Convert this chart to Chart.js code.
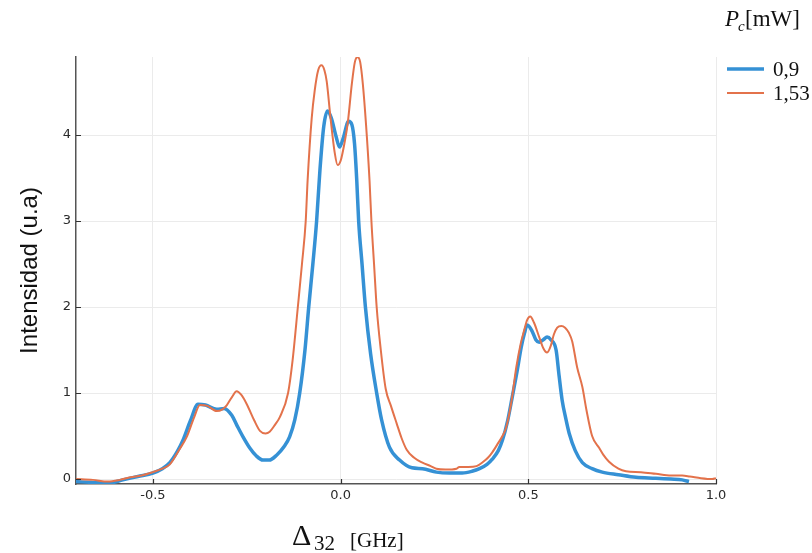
<!DOCTYPE html>
<html>
<head>
<meta charset="utf-8">
<script src="https://cdn.jsdelivr.net/npm/chart.js@4.4.1/dist/chart.umd.min.js"></script>
<style>
  html, body { margin: 0; padding: 0; background: #fff; }
  #wrap { width: 812px; height: 553px; }
</style>
</head>
<body>
<div id="wrap"><canvas id="chart" width="812" height="553"></canvas></div>
<script>
// --- DATA ---
const seriesNames = ['0,9', '1,53'];

const blueX = [-0.705, -0.66, -0.62, -0.58, -0.54, -0.50, -0.475, -0.455, -0.435, -0.42, -0.40, -0.38, -0.36, -0.33, -0.31, -0.29, -0.277, -0.26, -0.242, -0.225, -0.207, -0.19, -0.17, -0.15, -0.136, -0.122, -0.109, -0.095, -0.085, -0.074, -0.064, -0.055, -0.045, -0.035, -0.025, -0.012, -0.003, 0.008, 0.021, 0.03, 0.037, 0.043, 0.048, 0.057, 0.066, 0.08, 0.096, 0.109, 0.13, 0.157, 0.19, 0.218, 0.255, 0.29, 0.324, 0.35, 0.37, 0.39, 0.404, 0.42, 0.431, 0.445, 0.457, 0.47, 0.481, 0.49, 0.497, 0.51, 0.52, 0.529, 0.54, 0.55, 0.56, 0.574, 0.582, 0.59, 0.60, 0.609, 0.625, 0.644, 0.67, 0.697, 0.74, 0.787, 0.84, 0.88, 0.91, 0.928];
const blueY = [-0.03, -0.04, -0.05, -0.01, 0.03, 0.07, 0.12, 0.19, 0.32, 0.45, 0.68, 0.87, 0.86, 0.81, 0.82, 0.74, 0.63, 0.49, 0.36, 0.27, 0.22, 0.22, 0.28, 0.38, 0.49, 0.69, 1.0, 1.5, 2.0, 2.5, 3.0, 3.6, 4.1, 4.28, 4.2, 3.98, 3.86, 3.98, 4.16, 4.12, 3.9, 3.47, 3.0, 2.5, 2.0, 1.45, 1.0, 0.69, 0.37, 0.22, 0.13, 0.12, 0.08, 0.07, 0.07, 0.09, 0.12, 0.17, 0.23, 0.33, 0.45, 0.68, 0.95, 1.25, 1.53, 1.7, 1.79, 1.72, 1.62, 1.59, 1.62, 1.65, 1.62, 1.5, 1.2, 0.92, 0.7, 0.53, 0.33, 0.19, 0.12, 0.08, 0.05, 0.02, 0.01, 0.0, -0.01, -0.03];

const orangeX = [-0.705, -0.66, -0.62, -0.588, -0.56, -0.53, -0.50, -0.475, -0.455, -0.43, -0.41, -0.39, -0.375, -0.355, -0.33, -0.315, -0.303, -0.29, -0.277, -0.265, -0.25, -0.23, -0.215, -0.20, -0.189, -0.175, -0.162, -0.14, -0.128, -0.114, -0.103, -0.093, -0.088, -0.077, -0.069, -0.06, -0.051, -0.043, -0.037, -0.027, -0.016, -0.008, 0.0, 0.01, 0.019, 0.03, 0.038, 0.045, 0.052, 0.059, 0.068, 0.077, 0.082, 0.089, 0.096, 0.107, 0.12, 0.134, 0.149, 0.162, 0.176, 0.195, 0.218, 0.24, 0.255, 0.28, 0.309, 0.316, 0.34, 0.362, 0.38, 0.393, 0.404, 0.42, 0.431, 0.441, 0.455, 0.468, 0.48, 0.489, 0.497, 0.505, 0.515, 0.529, 0.54, 0.55, 0.56, 0.568, 0.577, 0.588, 0.598, 0.608, 0.617, 0.63, 0.644, 0.655, 0.67, 0.689, 0.70, 0.715, 0.74, 0.76, 0.80, 0.84, 0.88, 0.91, 0.93, 0.96, 0.99, 1.0];
const orangeY = [0.0, -0.01, -0.03, -0.01, 0.02, 0.04, 0.08, 0.12, 0.17, 0.34, 0.49, 0.72, 0.86, 0.85, 0.79, 0.81, 0.86, 0.95, 1.02, 0.98, 0.87, 0.68, 0.56, 0.53, 0.55, 0.63, 0.72, 1.0, 1.38, 2.0, 2.5, 3.0, 3.47, 4.2, 4.52, 4.75, 4.81, 4.75, 4.62, 4.2, 3.8, 3.65, 3.7, 3.9, 4.14, 4.6, 4.85, 4.91, 4.85, 4.6, 4.1, 3.47, 3.0, 2.5, 2.0, 1.5, 1.05, 0.85, 0.65, 0.48, 0.34, 0.25, 0.19, 0.15, 0.12, 0.11, 0.12, 0.14, 0.14, 0.15, 0.2, 0.25, 0.31, 0.42, 0.5, 0.6, 0.9, 1.3, 1.58, 1.73, 1.85, 1.89, 1.82, 1.65, 1.52, 1.47, 1.55, 1.68, 1.76, 1.78, 1.76, 1.7, 1.6, 1.3, 1.07, 0.8, 0.5, 0.36, 0.28, 0.2, 0.12, 0.09, 0.08, 0.06, 0.04, 0.04, 0.03, 0.01, 0.0, 0.01];

const xTicks = [-0.5, 0.0, 0.5, 1.0];
const yTicks = [0, 1, 2, 3, 4];

const BLUE = '#3591d5';
const ORANGE = '#e3724b';

const toPoints = (xs, ys) => xs.map((x, i) => ({ x: x, y: ys[i] }));

// --- inward tick marks, like the original plot ---
const innerTicks = {
  id: 'innerTicks',
  afterDatasetsDraw(chart) {
    const { ctx, chartArea: a, scales: { x, y } } = chart;
    ctx.save();
    ctx.strokeStyle = '#333';
    ctx.lineWidth = 1.2;
    ctx.beginPath();
    xTicks.forEach(v => {
      const px = Math.round(x.getPixelForValue(v)) + 0.5;
      ctx.moveTo(px, a.bottom);
      ctx.lineTo(px, a.bottom - 5);
    });
    yTicks.forEach(v => {
      const py = Math.round(y.getPixelForValue(v)) + 0.5;
      ctx.moveTo(a.left, py);
      ctx.lineTo(a.left + 5, py);
    });
    ctx.stroke();
    ctx.restore();
  }
};

// --- x title (Delta_32 [GHz]) and legend with title P_c[mW] ---
const extras = {
  id: 'extras',
  afterDraw(chart) {
    const ctx = chart.ctx;
    ctx.save();
    ctx.fillStyle = '#111';
    ctx.textBaseline = 'alphabetic';
    ctx.textAlign = 'left';

    // x axis title
    ctx.font = '30px "Liberation Serif"';
    ctx.fillText('\u0394', 292, 545);
    ctx.font = '21px "Liberation Serif"';
    ctx.fillText('32', 314, 550);
    ctx.font = '21px "Liberation Serif"';
    ctx.fillText('[GHz]', 350, 547);

    // legend title
    ctx.font = 'italic 23px "Liberation Serif"';
    ctx.fillText('P', 725, 26);
    ctx.font = 'italic 15px "Liberation Serif"';
    ctx.fillText('c', 738, 31);
    ctx.font = '23px "Liberation Serif"';
    ctx.fillText('[mW]', 745, 26);

    // legend entries
    const rows = [
      { name: seriesNames[0], color: BLUE, width: 3.5, y: 69 },
      { name: seriesNames[1], color: ORANGE, width: 2, y: 93 }
    ];
    rows.forEach(r => {
      ctx.strokeStyle = r.color;
      ctx.lineWidth = r.width;
      ctx.beginPath();
      ctx.moveTo(727, r.y);
      ctx.lineTo(764, r.y);
      ctx.stroke();
      ctx.font = '21px "Liberation Serif"';
      ctx.fillText(r.name, 773, r.y + 7);
    });
    ctx.restore();
  }
};

new Chart(document.getElementById('chart'), {
  type: 'scatter',
  data: {
    datasets: [
      {
        label: seriesNames[0],
        data: toPoints(blueX, blueY),
        showLine: true,
        borderColor: BLUE,
        borderWidth: 3.5,
        pointRadius: 0,
        cubicInterpolationMode: 'monotone',
        order: 1
      },
      {
        label: seriesNames[1],
        data: toPoints(orangeX, orangeY),
        showLine: true,
        borderColor: ORANGE,
        borderWidth: 2,
        pointRadius: 0,
        cubicInterpolationMode: 'monotone',
        order: 0
      }
    ]
  },
  options: {
    responsive: false,
    animation: false,
    layout: { padding: { left: 0, top: 57, right: 96, bottom: 45 } },
    plugins: { legend: { display: false }, tooltip: { enabled: false } },
    scales: {
      x: {
        type: 'linear',
        min: -0.705,
        max: 1.0,
        afterFit: s => { s.height = 24; },
        afterBuildTicks: s => { s.ticks = xTicks.map(v => ({ value: v })); },
        ticks: {
          padding: 4,
          color: '#2a2a2a',
          font: { family: '"DejaVu Sans"', size: 13 },
          callback: v => v.toFixed(1)
        },
        grid: { color: '#ebebeb', lineWidth: 1, tickLength: 0 },
        border: { color: '#555', width: 1.5 }
      },
      y: {
        type: 'linear',
        min: -0.058,
        max: 4.907,
        afterFit: s => { s.width = 76; },
        afterBuildTicks: s => { s.ticks = yTicks.map(v => ({ value: v })); },
        ticks: {
          padding: 5,
          color: '#2a2a2a',
          font: { family: '"DejaVu Sans"', size: 13 },
          callback: v => String(v)
        },
        grid: { color: '#ebebeb', lineWidth: 1, tickLength: 0 },
        border: { color: '#555', width: 1.5 },
        title: {
          display: true,
          text: 'Intensidad (u.a)',
          color: '#111',
          font: { family: '"Liberation Sans"', size: 24 },
          padding: { top: 16, bottom: 0 }
        }
      }
    }
  },
  plugins: [innerTicks, extras]
});
</script>
</body>
</html>
